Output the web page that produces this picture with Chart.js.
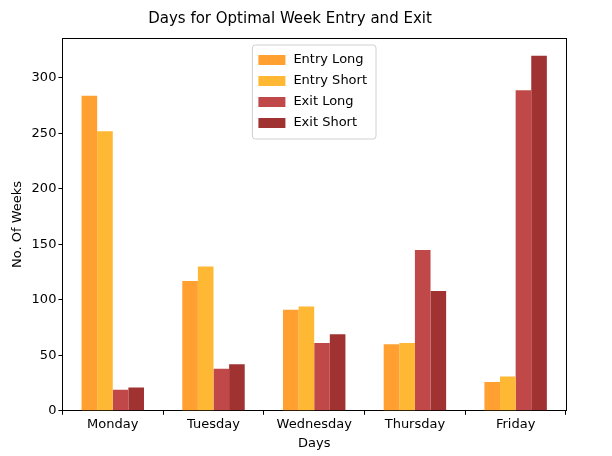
<!DOCTYPE html>
<html>
<head>
<meta charset="utf-8">
<script src="https://cdn.jsdelivr.net/npm/chart.js@4"></script>
<style>
  body { margin: 0; background: #fff; }
  #wrap { width: 612px; height: 456px; }
</style>
</head>
<body>
<div id="wrap"><canvas id="chart"></canvas></div>
<script>
const days = ['Monday', 'Tuesday', 'Wednesday', 'Thursday', 'Friday'];
const entryLong = [284, 117, 91, 60, 26];
const entryShort = [252, 130, 94, 61, 31];
const exitLong = [19, 38, 61, 145, 289];
const exitShort = [21, 42, 69, 108, 320];
const yTicks = [0, 50, 100, 150, 200, 250, 300];

const font = { family: 'DejaVu Sans', size: 13 };

// matplotlib-like legend box inside the plot, top centre
const boxLegend = {
    id: 'boxLegend',
    afterDraw(chart) {
        const ctx = chart.ctx;
        const area = chart.chartArea;
        const sets = chart.data.datasets;
        ctx.save();
        ctx.font = '13px DejaVu Sans';
        const textW = Math.max(...sets.map(d => ctx.measureText(d.label).width));
        const w = textW + 50, rowH = 21, h = sets.length * rowH + 10;
        const x = (area.left + area.right) / 2 - w / 2, y = area.top + 7;
        ctx.fillStyle = 'rgba(255,255,255,0.8)';
        ctx.strokeStyle = '#d0d0d0';
        ctx.lineWidth = 1;
        ctx.beginPath();
        ctx.roundRect(x, y, w, h, 3);
        ctx.fill();
        ctx.stroke();
        sets.forEach((d, i) => {
            const ry = y + 7 + i * rowH;
            ctx.fillStyle = d.backgroundColor;
            ctx.fillRect(x + 6, ry + 3, 27, 10);
            ctx.fillStyle = '#000';
            ctx.textBaseline = 'middle';
            ctx.fillText(d.label, x + 41, ry + 8);
        });
        ctx.restore();
    }
};

const tickGrid = { drawOnChartArea: false, tickColor: '#000', tickLength: 4 };

new Chart(document.getElementById('chart').getContext('2d'), {
    type: 'bar',
    data: {
        labels: days,
        datasets: [
            { label: 'Entry Long', data: entryLong, backgroundColor: '#ffa030' },
            { label: 'Entry Short', data: entryShort, backgroundColor: '#ffb833' },
            { label: 'Exit Long', data: exitLong, backgroundColor: '#c04848' },
            { label: 'Exit Short', data: exitShort, backgroundColor: '#a03232' }
        ]
    },
    options: {
        responsive: true,
        maintainAspectRatio: false,
        animation: false,
        layout: { padding: { left: 6, right: 38, top: 4, bottom: 4 } },
        datasets: { bar: { barPercentage: 1, categoryPercentage: 0.62 } },
        plugins: {
            legend: { display: false },
            tooltip: { enabled: false },
            title: {
                display: true,
                text: 'Days for Optimal Week Entry and Exit',
                color: '#000',
                font: { family: 'DejaVu Sans', size: 15, weight: 'normal' },
                padding: { top: 6, bottom: 2 }
            }
        },
        scales: {
            x: {
                grid: tickGrid,
                border: { color: '#000' },
                ticks: { color: '#000', font, padding: 2 },
                title: { display: true, text: 'Days', color: '#000', font, padding: 1 }
            },
            y: {
                min: 0,
                max: 336,
                afterBuildTicks(axis) { axis.ticks = yTicks.map(v => ({ value: v })); },
                grid: tickGrid,
                border: { color: '#000' },
                ticks: { color: '#000', font, padding: 2 },
                title: { display: true, text: 'No. Of Weeks', color: '#000', font, padding: 4 }
            },
            yRight: {
                position: 'right',
                min: 0, max: 336,
                grid: { display: false },
                border: { color: '#000' },
                ticks: { display: false }
            },
            xTop: {
                position: 'top',
                labels: days,
                grid: { display: false },
                border: { color: '#000' },
                ticks: { display: false }
            }
        }
    },
    plugins: [boxLegend]
});
</script>
</body>
</html>
